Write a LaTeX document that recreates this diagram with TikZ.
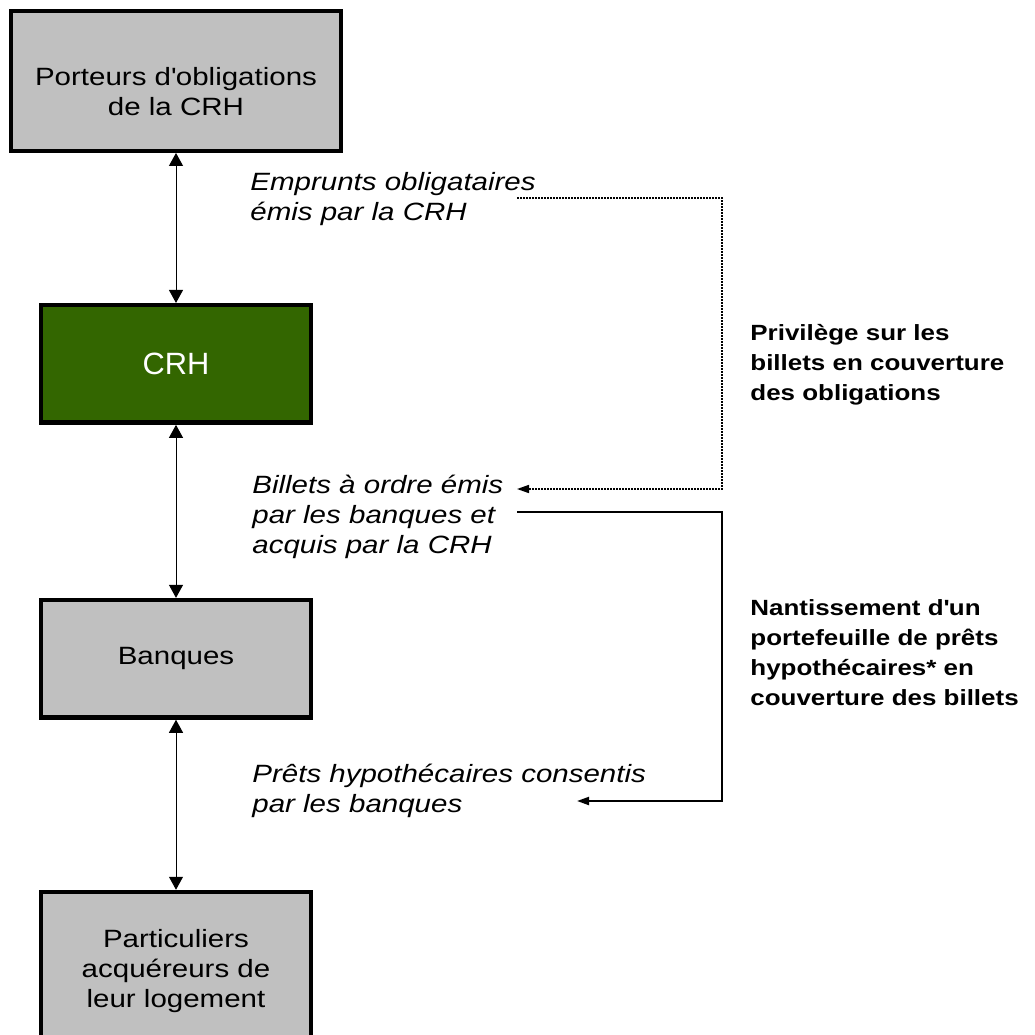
\documentclass[tikz,border=0pt]{standalone}
\usepackage{fontspec}
\setmainfont{Liberation Sans}[FakeStretch=1.18]
\newfontfamily\crhfont{Liberation Sans}
\usetikzlibrary{positioning, arrows.meta}
\definecolor{crhgreen}{RGB}{51,102,0}
\definecolor{boxgrey}{RGB}{192,192,192}
\tikzstyle{box} = [rectangle, line width=2.2pt, draw=black, fill=boxgrey, text centered, align=center, font=\fontsize{12.5}{15}\selectfont, minimum width=135.25pt, minimum height=58.75pt]
\tikzstyle{crhbox} = [box, fill=crhgreen, text=white, font=\crhfont\fontsize{15.4}{18}\selectfont]
\tikzstyle{flux} = [anchor=north west, align=left, inner sep=0pt, font=\itshape\fontsize{12.5}{15}\selectfont]
\tikzstyle{garantie} = [anchor=north west, align=left, inner sep=0pt, font=\bfseries\fontsize{11}{15}\selectfont]
\tikzstyle{arrow} = [line width=0.5pt, {Triangle[length=6.5pt,width=7pt]}-{Triangle[length=6.5pt,width=7pt]}]
\tikzstyle{dotarrow} = [line width=0.8pt, dash pattern=on 1pt off 0.5pt, -{Triangle[length=6pt,width=4pt]}]
\tikzstyle{solidarrow} = [line width=1pt, -{Triangle[length=6pt,width=4pt]}]

\begin{document}
\begin{tikzpicture}[x=0.5pt, y=-0.5pt]
	\useasboundingbox (0,0) rectangle (1035,1035);
	\node (porteurs) [box, minimum width=164.75pt, minimum height=69.75pt] at (176,81) {\rule{0pt}{20pt}Porteurs d\textquotesingle obligations\\de la CRH};
	\node (crh) [crhbox, below=75pt of porteurs] {CRH};
	\node (banques) [box, below=86.5pt of crh] {Banques};
	\node (particuliers) [box, below=85pt of banques, minimum height=79pt] {Particuliers\\acquéreurs de\\leur logement};
	\draw [arrow] (porteurs) -- (crh);
	\draw [arrow] (crh) -- (banques);
	\draw [arrow] (banques) -- (particuliers);
	% flux
	\node (emprunts) [flux] at (250,169) {\strut Emprunts obligataires\\émis par la CRH};
	\node (billets) [flux] at (252,472) {\strut Billets à ordre émis\\par les banques et\\acquis par la CRH};
	\node (prets) [flux] at (252,761) {\strut Prêts hypothécaires consentis\\par les banques};
	% garanties
	\node (privilege) [garantie] at (750,319) {\strut Privilège sur les\\billets en couverture\\des obligations};
	\node (nantissement) [garantie] at (750,594) {\strut Nantissement d\textquotesingle un\\portefeuille de prêts\\hypothécaires* en\\couverture des billets};
	\coordinate (privDepart) at (517,198);
	\coordinate (privArrivee) at (517,489);
	\coordinate (nantDepart) at (517,512);
	\coordinate (nantArrivee) at (577,801);
	\coordinate (cote) at (722,0);
	\draw [dotarrow] (privDepart) -- (privDepart -| cote) -- (privArrivee -| cote) -- (privArrivee);
	\draw [solidarrow] (nantDepart) -- (nantDepart -| cote) -- (nantArrivee -| cote) -- (nantArrivee);
\end{tikzpicture}
\end{document}
